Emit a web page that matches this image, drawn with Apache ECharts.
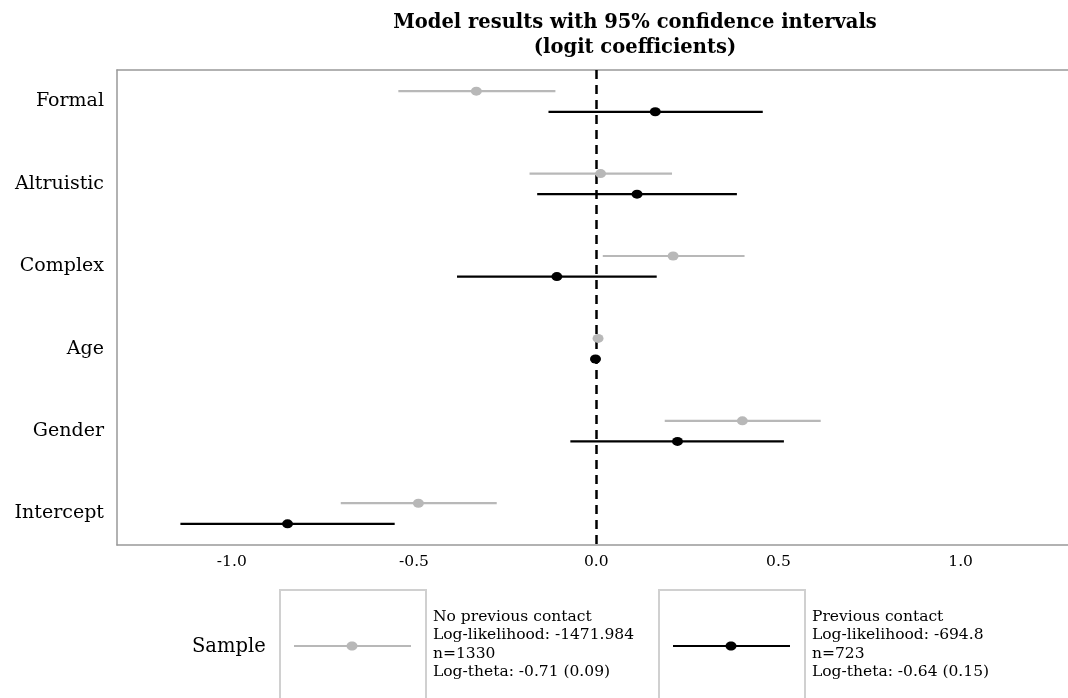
<!DOCTYPE html>
<html>
<head>
<meta charset="utf-8">
<script src="https://cdn.jsdelivr.net/npm/echarts@6/dist/echarts.min.js"></script>
<style>
  html, body { margin: 0; padding: 0; background: #fff; overflow: hidden; }
  #chart { width: 1068px; height: 698px; }
</style>
</head>
<body>
<div id="chart"></div>
<script>
var categories = ['Formal', 'Altruistic', 'Complex', 'Age', 'Gender', 'Intercept'];
var xTicks = [-1.0, -0.5, 0.0, 0.5, 1.0];

// No previous contact (grey)
var noContactEst = [-0.329, 0.012, 0.211, 0.005, 0.401, -0.488];
var noContactLow = [-0.543, -0.183, 0.018, 0.001, 0.188, -0.701];
var noContactHigh = [-0.112, 0.208, 0.407, 0.009, 0.616, -0.273];

// Previous contact (black)
var contactEst = [0.162, 0.112, -0.108, -0.002, 0.223, -0.847];
var contactLow = [-0.131, -0.162, -0.382, -0.008, -0.071, -1.141];
var contactHigh = [0.457, 0.386, 0.166, 0.004, 0.515, -0.553];

var legendText1 = ['No previous contact', 'Log-likelihood: -1471.984', 'n=1330', 'Log-theta: -0.71 (0.09)'];
var legendText2 = ['Previous contact', 'Log-likelihood: -694.8', 'n=723', 'Log-theta: -0.64 (0.15)'];

var GREY = '#b8b8b8';
var BLACK = '#000000';
var FRAME = '#999999';
var SERIF = 'DejaVu Serif';
var OFFSET = 0.125;
var X_MIN = -1.315;
var X_MAX = 1.322;

function barRows(low, high, shift) {
  return low.map(function (v, i) { return [v, high[i], i + shift]; });
}
function dotRows(est, shift) {
  return est.map(function (v, i) { return [v, i + shift]; });
}
function barRenderer(color) {
  return function (params, api) {
    var p1 = api.coord([api.value(0), api.value(2)]);
    var p2 = api.coord([api.value(1), api.value(2)]);
    return {
      type: 'line',
      shape: {x1: p1[0], y1: p1[1], x2: p2[0], y2: p2[1]},
      style: {stroke: color, lineWidth: 2.2}
    };
  };
}

function legendBox(x, color, texts) {
  var els = [
    {type: 'rect', shape: {x: x, y: 590, width: 146, height: 130},
      style: {fill: 'none', stroke: '#d0d0d0', lineWidth: 2}},
    {type: 'line', shape: {x1: x + 14, y1: 646, x2: x + 131, y2: 646},
      style: {stroke: color, lineWidth: 2.2}},
    {type: 'ellipse', shape: {cx: x + 72, cy: 646, rx: 5.5, ry: 4.5}, style: {fill: color}}
  ];
  texts.forEach(function (t, i) {
    els.push({type: 'text', x: x + 153, y: 617 + i * 18.4,
      style: {text: t, font: '15.5px "' + SERIF + '"', fill: '#000', verticalAlign: 'middle'}});
  });
  return els;
}

var chart = echarts.init(document.getElementById('chart'));
chart.setOption({
  animation: false,
  backgroundColor: '#fff',
  title: {
    text: 'Model results with 95% confidence intervals\n(logit coefficients)',
    left: 630,
    top: 5,
    textAlign: 'center',
    textStyle: {fontFamily: SERIF, fontWeight: 'bold', fontSize: 19.5, lineHeight: 25, color: '#000'}
  },
  grid: {left: 117, top: 70, right: -10, bottom: 153, outerBoundsMode: 'none'},
  xAxis: [
    {
      type: 'value',
      position: 'bottom',
      min: X_MIN,
      max: X_MAX,
      axisLine: {show: true, onZero: false, lineStyle: {color: FRAME, width: 1.5}},
      axisTick: {show: false},
      splitLine: {show: false},
      axisLabel: {
        customValues: xTicks,
        margin: 9,
        fontFamily: SERIF,
        fontSize: 15.5,
        color: '#000',
        formatter: function (v) { return v.toFixed(1); }
      }
    },
    {
      type: 'value',
      position: 'top',
      min: X_MIN,
      max: X_MAX,
      axisLine: {show: true, onZero: false, lineStyle: {color: FRAME, width: 1.5}},
      axisTick: {show: false},
      splitLine: {show: false},
      axisLabel: {show: false}
    }
  ],
  yAxis: {
    type: 'value',
    inverse: true,
    min: -0.382,
    max: 5.382,
    axisLine: {show: true, onZero: false, lineStyle: {color: FRAME, width: 1.5}},
    axisTick: {show: false},
    splitLine: {show: false},
    axisLabel: {
      customValues: [0, 1, 2, 3, 4, 5],
      margin: 13,
      fontFamily: SERIF,
      fontSize: 19,
      color: '#000',
      formatter: function (v) { return categories[Math.round(v)]; }
    }
  },
  series: [
    {
      type: 'custom', name: 'No previous contact',
      renderItem: barRenderer(GREY),
      encode: {x: [0, 1], y: 2},
      data: barRows(noContactLow, noContactHigh, -OFFSET),
      z: 3
    },
    {
      type: 'custom', name: 'Previous contact',
      renderItem: barRenderer(BLACK),
      encode: {x: [0, 1], y: 2},
      data: barRows(contactLow, contactHigh, OFFSET),
      z: 3
    },
    {
      type: 'scatter', name: 'No previous contact',
      data: dotRows(noContactEst, -OFFSET),
      symbol: 'circle', symbolSize: [11, 9],
      itemStyle: {color: GREY, opacity: 1},
      z: 4,
      markLine: {
        silent: true, symbol: 'none',
        label: {show: false},
        lineStyle: {color: '#000', width: 2.5, type: [9, 6]},
        data: [{xAxis: 0}],
        z: 2
      }
    },
    {
      type: 'scatter', name: 'Previous contact',
      data: dotRows(contactEst, OFFSET),
      symbol: 'circle', symbolSize: [11, 9],
      itemStyle: {color: BLACK, opacity: 1},
      z: 4
    }
  ],
  graphic: [
    {type: 'text', x: 192, y: 647,
      style: {text: 'Sample', font: '19.5px "' + SERIF + '"', fill: '#000', verticalAlign: 'middle'}}
  ].concat(legendBox(280, GREY, legendText1), legendBox(659, BLACK, legendText2))
});
</script>
</body>
</html>
